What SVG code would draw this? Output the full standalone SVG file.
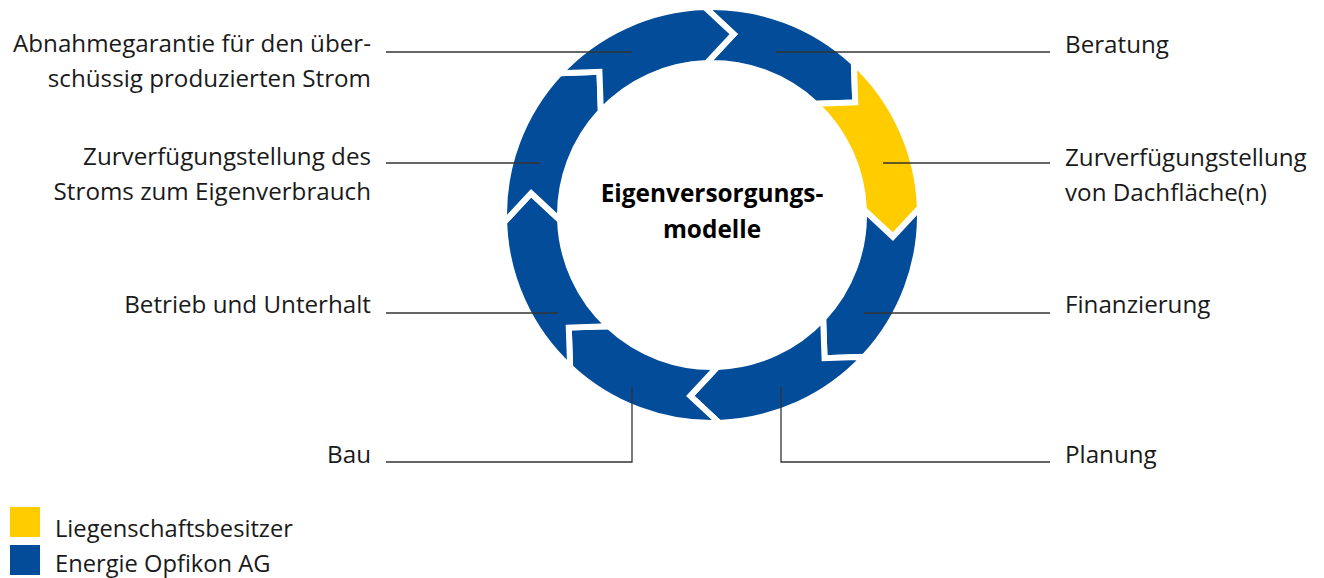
<svg xmlns="http://www.w3.org/2000/svg" width="1324" height="578" viewBox="0 0 1324 578">
<style>
.seg{stroke:#fff;stroke-width:6;stroke-linejoin:miter}
.blue{fill:#034c9a}
.yellow{fill:#ffcc00}
.lbl{font-family:"Open Sans","Noto Sans","Liberation Sans",sans-serif;font-size:24.2px;fill:#1a1a1a}
.lg{font-size:23.7px}
.l{text-anchor:end}
.ctr{font-family:"Open Sans","Noto Sans","Liberation Sans",sans-serif;font-size:24.4px;font-weight:bold;fill:#000;text-anchor:middle}
.ln{fill:none;stroke:#333;stroke-width:1.3}
</style>
<rect width="1324" height="578" fill="#fff"/>
<g id="node-beratung">
<path class="seg blue" d="M704.74,7.12 A208,208 0 0 1 853.86,62.87 L855.24,102.45 L815.66,103.83 A152,152 0 0 0 706.70,63.09 L733.70,34.13 Z"/>
<text class="lbl" x="1065" y="53">Beratung</text>
</g>
<g id="node-dachflaeche">
<path class="seg yellow" d="M853.86,62.87 A208,208 0 0 1 919.88,207.74 L892.87,236.70 L863.91,209.70 A152,152 0 0 0 815.66,103.83 L855.24,102.45 Z"/>
<text class="lbl" x="1065" y="166">Zurverfügungstellung</text>
<text class="lbl" x="1065" y="201">von Dachfläche(n)</text>
</g>
<g id="node-finanzierung">
<path class="seg blue" d="M919.88,207.74 A208,208 0 0 1 864.13,356.86 L824.55,358.24 L823.17,318.66 A152,152 0 0 0 863.91,209.70 L892.87,236.70 Z"/>
<text class="lbl" x="1065" y="313">Finanzierung</text>
</g>
<g id="node-planung">
<path class="seg blue" d="M864.13,356.86 A208,208 0 0 1 719.26,422.88 L690.30,395.87 L717.30,366.91 A152,152 0 0 0 823.17,318.66 L824.55,358.24 Z"/>
<text class="lbl" x="1065" y="463">Planung</text>
</g>
<g id="node-bau">
<path class="seg blue" d="M719.26,422.88 A208,208 0 0 1 570.14,367.13 L568.76,327.55 L608.34,326.17 A152,152 0 0 0 717.30,366.91 L690.30,395.87 Z"/>
<text class="lbl l" x="371" y="463">Bau</text>
</g>
<g id="node-betrieb">
<path class="seg blue" d="M570.14,367.13 A208,208 0 0 1 504.12,222.26 L531.13,193.30 L560.09,220.30 A152,152 0 0 0 608.34,326.17 L568.76,327.55 Z"/>
<text class="lbl l" x="371" y="313">Betrieb und Unterhalt</text>
</g>
<g id="node-eigenverbrauch">
<path class="seg blue" d="M504.12,222.26 A208,208 0 0 1 559.87,73.14 L599.45,71.76 L600.83,111.34 A152,152 0 0 0 560.09,220.30 L531.13,193.30 Z"/>
<text class="lbl l" x="371" y="165">Zurverfügungstellung des</text>
<text class="lbl l" x="371" y="200">Stroms zum Eigenverbrauch</text>
</g>
<g id="node-abnahme">
<path class="seg blue" d="M559.87,73.14 A208,208 0 0 1 704.74,7.12 L733.70,34.13 L706.70,63.09 A152,152 0 0 0 600.83,111.34 L599.45,71.76 Z"/>
<text class="lbl l" x="371" y="52">Abnahmegarantie für den über-</text>
<text class="lbl l" x="371" y="87">schüssig produzierten Strom</text>
</g>
<g id="node-center">
<text class="ctr" x="712" y="202">Eigenversorgungs-</text>
<text class="ctr" x="712" y="238">modelle</text>
</g>
<g id="connectors">
<path class="ln" d="M386,52 H632"/>
<path class="ln" d="M776,52 H1050"/>
<path class="ln" d="M883,163 H1050"/>
<path class="ln" d="M386,163 H540"/>
<path class="ln" d="M386,313 H558"/>
<path class="ln" d="M864,313 H1050"/>
<path class="ln" d="M386,462 H632 V387"/>
<path class="ln" d="M781,387 V462 H1050"/>
</g>
<g id="legend">
<rect x="10" y="507" width="30" height="30" class="yellow"/>
<text class="lbl lg" x="55" y="537">Liegenschaftsbesitzer</text>
<rect x="10" y="545" width="30" height="30" class="blue"/>
<text class="lbl lg" x="55" y="572">Energie Opfikon AG</text>
</g>
</svg>
